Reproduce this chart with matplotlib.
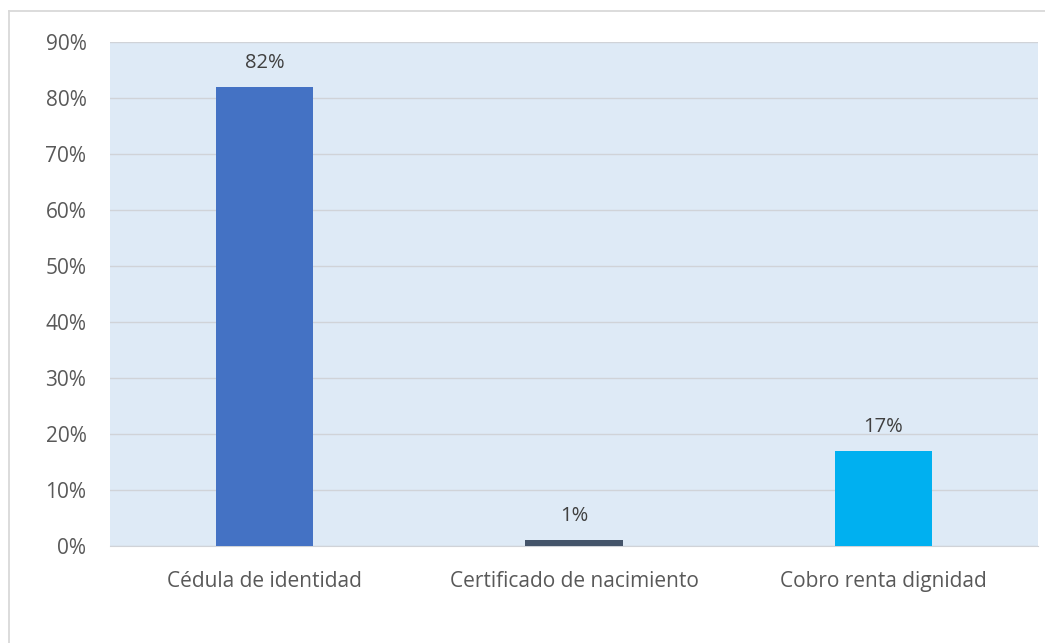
import matplotlib
matplotlib.use("Agg")
import matplotlib.pyplot as plt
from matplotlib.ticker import PercentFormatter
from matplotlib.lines import Line2D

categories = ["Cédula de identidad", "Certificado de nacimiento", "Cobro renta dignidad"]
values = [82, 1, 17]
colors = ["#4472C4", "#44546A", "#00B0F0"]
yticks = [0, 10, 20, 30, 40, 50, 60, 70, 80, 90]

plt.rcParams['font.family'] = ['Open Sans', 'DejaVu Sans']
W, H = 1045, 643
fig = plt.figure(figsize=(W/100, H/100), dpi=100)
ax = fig.add_axes([110/W, 1 - 546/H, (1038-110)/W, (546-42)/H])
ax.set_facecolor("#DEEAF6")
x = range(len(categories))
bars = ax.bar(x, values, width=0.315, color=colors, zorder=3)
for xi, v in zip(x, values):
    ax.text(xi, v + 2.5, f"{v}%", ha="center", va="bottom", fontsize=14.5, color="#404040")
ax.set_ylim(0, 90)
ax.set_xlim(-0.5, 2.5)
ax.set_yticks(yticks)
ax.yaxis.set_major_formatter(PercentFormatter(decimals=0))
ax.set_xticks(list(x))
ax.set_xticklabels(categories)
ax.grid(axis="y", color="#D0D3D8", linewidth=1, zorder=0)
for s in ["top", "right", "left"]:
    ax.spines[s].set_visible(False)
ax.spines["bottom"].set_color("#D0D3D8")
ax.tick_params(axis="both", length=0, labelsize=15, labelcolor="#595959")
ax.tick_params(axis="y", pad=17)
ax.tick_params(axis="x", pad=18)
# outer border (top and left)
fig.add_artist(Line2D([8.5/W, 8.5/W], [0, 1 - 11/H], color="#D9D9D9", lw=1.3))
fig.add_artist(Line2D([8.5/W, 1], [1 - 11/H, 1 - 11/H], color="#D9D9D9", lw=1.3))
fig.savefig("out.png", dpi=100)
